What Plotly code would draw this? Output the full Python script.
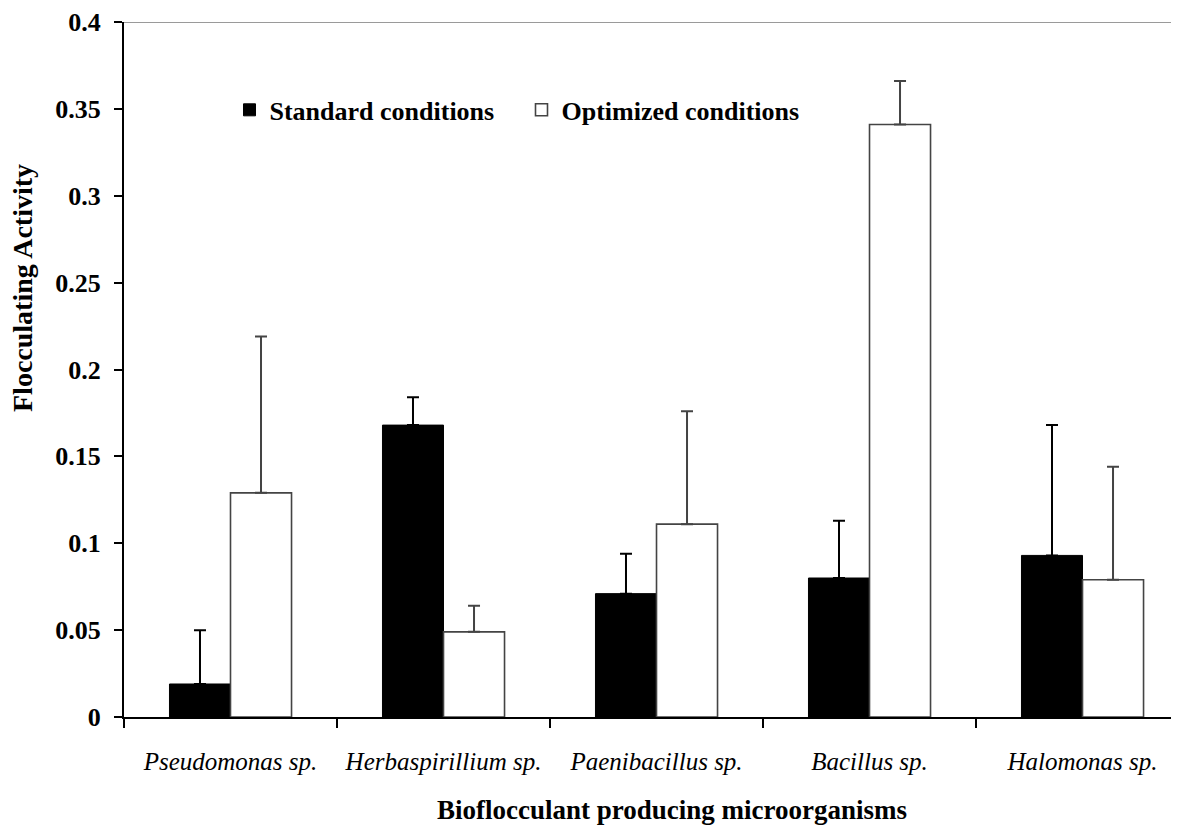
import plotly.graph_objects as go

categories = ["Pseudomonas sp.", "Herbaspirillium sp.", "Paenibacillus sp.", "Bacillus sp.", "Halomonas sp."]
standard = [0.019, 0.168, 0.071, 0.080, 0.093]
standard_err = [0.031, 0.016, 0.023, 0.033, 0.075]
optimized = [0.129, 0.049, 0.111, 0.341, 0.079]
optimized_err = [0.090, 0.015, 0.065, 0.025, 0.065]
y_ticks = [0, 0.05, 0.1, 0.15, 0.2, 0.25, 0.3, 0.35, 0.4]
y_ticktext = ["0", "0.05", "0.1", "0.15", "0.2", "0.25", "0.3", "0.35", "0.4"]

SERIF = "Liberation Serif, Times New Roman, serif"

fig = go.Figure()
fig.add_trace(go.Bar(
    x=categories, y=standard, name="Standard conditions",
    marker=dict(color="black", line=dict(color="black", width=1)),
    error_y=dict(type="data", array=standard_err, arrayminus=[0]*len(standard_err),
                 symmetric=False, color="black", thickness=2, width=6),
))
fig.add_trace(go.Bar(
    x=categories, y=optimized, name="Optimized conditions",
    marker=dict(color="white", line=dict(color="#444444", width=1.6)),
    error_y=dict(type="data", array=optimized_err, arrayminus=[0]*len(optimized_err),
                 symmetric=False, color="#444444", thickness=2, width=6),
))

PH = 695  # plot height in px
fig.update_layout(
    width=1179, height=830,
    margin=dict(l=116, r=8, t=14, b=121, autoexpand=False),
    paper_bgcolor="white", plot_bgcolor="white",
    barmode="group", bargap=0.427, bargroupgap=0,
    font=dict(family=SERIF, color="black"),
    showlegend=True,
    legend=dict(orientation="h", x=0.1, y=0.8735, xanchor="left", yanchor="middle",
                font=dict(family=SERIF, size=26, color="black", weight="bold"),
                bgcolor="rgba(0,0,0,0)", entrywidth=247, entrywidthmode="pixels",
                itemclick=False),
    xaxis=dict(
        type="category", range=[-0.5, 4.453], automargin=False,
        showline=True, linecolor="black", linewidth=2,
        ticks="outside", tickson="boundaries", ticklen=9, tickwidth=1.5, tickcolor="black",
        tickfont=dict(family=SERIF, size=25, style="italic", color="black"),
        ticklabelstandoff=21,
        showgrid=False, zeroline=False,
    ),
    yaxis=dict(
        range=[0, 0.4], tickvals=y_ticks, ticktext=y_ticktext, automargin=False,
        showline=True, linecolor="black", linewidth=2,
        ticks="outside", ticklen=8, tickwidth=1.5, tickcolor="black",
        tickfont=dict(family=SERIF, size=26, weight="bold", color="black"),
        ticklabelstandoff=8,
        showgrid=False, zeroline=False,
    ),
    shapes=[dict(type="line", xref="paper", yref="y", x0=0, x1=1, y0=0.4, y1=0.4,
                 line=dict(color="#9a9a9a", width=2), layer="below")],
    annotations=[
        dict(text="<b>Flocculating Activity</b>", xref="paper", yref="paper",
             x=(22 - 124) / 1055, y=(717 - 288) / PH, textangle=-90, showarrow=False,
             xanchor="center", yanchor="middle", font=dict(family=SERIF, size=28, color="black")),
        dict(text="<b>Bioflocculant producing microorganisms</b>", xref="paper", yref="paper",
             x=(672 - 124) / 1055, y=(717 - 810) / PH, showarrow=False,
             xanchor="center", yanchor="middle", font=dict(family=SERIF, size=27, color="black")),
    ],
)

fig.write_html("out.html")
